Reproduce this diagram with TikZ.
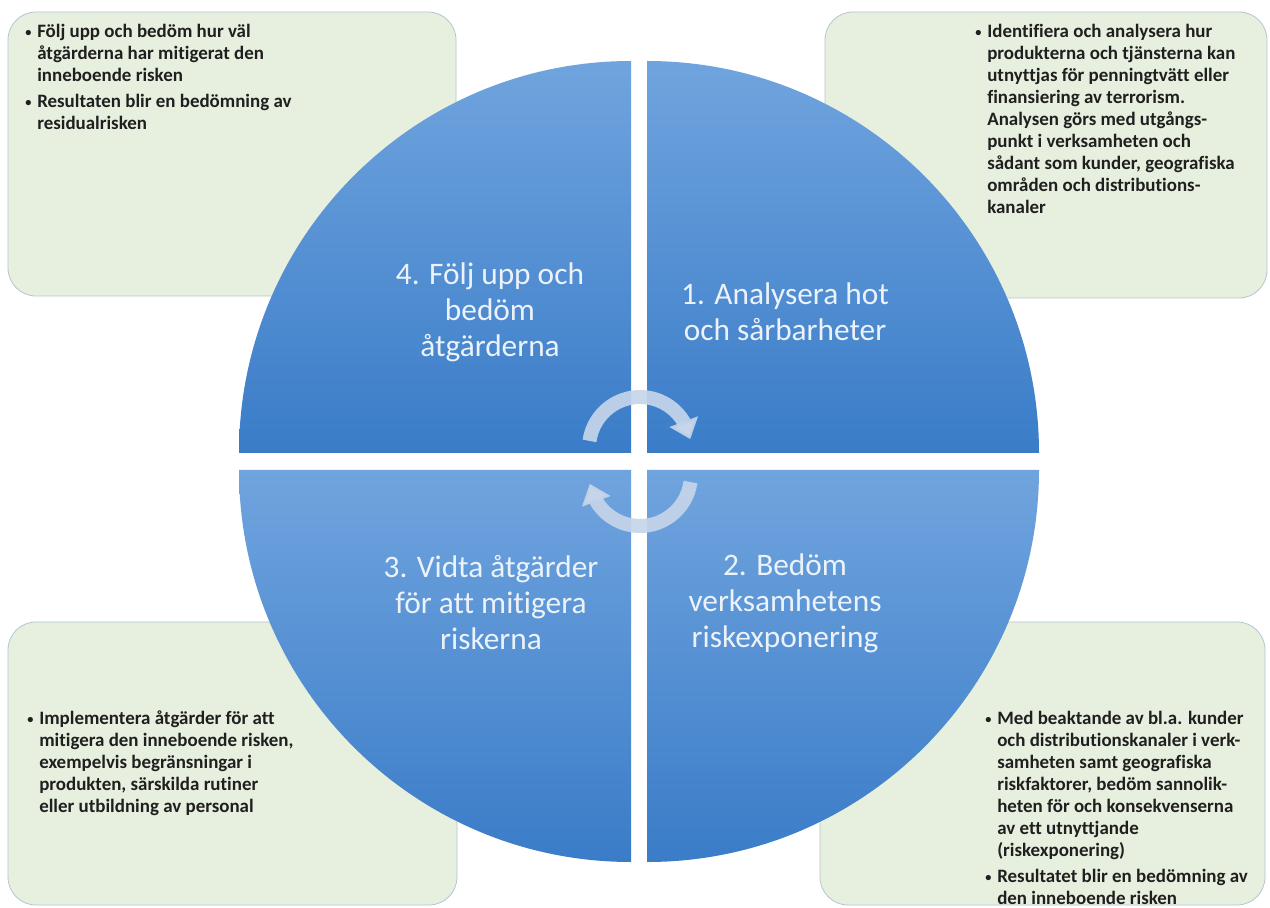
\documentclass[tikz,border=0pt]{standalone}
\usepackage{fontspec}
\setmainfont{Carlito}[Ligatures=NoCommon]
\usetikzlibrary{arrows.meta,bending}
\definecolor{quadtop}{RGB}{112,164,222}
\definecolor{quadbot}{RGB}{58,124,200}
\definecolor{boxfill}{RGB}{231,239,222}
\definecolor{boxline}{RGB}{180,198,206}
\definecolor{quadtext}{RGB}{236,242,250}
\definecolor{cyclecol}{RGB}{198,213,234}
\newcommand{\bp}{\makebox[9pt][l]{\raisebox{1pt}{\scalebox{0.65}{\textbullet}}}}
\newcommand{\ind}{\hspace*{9pt}}

\begin{document}
\begin{tikzpicture}[x=0.75pt, y=0.75pt,
  infobox/.style={fill=boxfill, draw=boxline, line width=0.6pt, rounded corners=21pt},
  quad/.style={top color=quadtop, bottom color=quadbot},
  quadlabel/.style={text=quadtext, align=center, font=\fontsize{23.5pt}{27pt}\selectfont},
  boxtext/.style={text=black!88, align=left, inner sep=0pt, anchor=north west,
    font=\fontsize{14.2pt}{16.5pt}\selectfont\bfseries},
  cyclearrow/.style={draw=cyclecol, line width=10.5pt, draw opacity=0.92,
    -{Triangle[width=22pt, length=14pt]}}]
\useasboundingbox (0,0) rectangle (1270,907);
\fill [white] (0,0) rectangle (1270,907);
\draw [infobox] (8,611) rectangle (456,895);
\draw [infobox] (825,609) rectangle (1267,895);
\draw [infobox] (8,2) rectangle (457,285);
\draw [infobox] (820,2) rectangle (1265,285);
\shade [quad] (631,454) -- (239,454) arc [start angle=180, end angle=90, radius=392] -- cycle;
\shade [quad] (647,454) -- (647,846) arc [start angle=90, end angle=0, radius=392] -- cycle;
\shade [quad] (631,437) -- (631,45) arc [start angle=270, end angle=180, radius=392] -- cycle;
\shade [quad] (647,437) -- (1039,437) arc [start angle=0, end angle=-90, radius=392] -- cycle;
\node [quadlabel] (folj) at (490,595) {4. Följ upp och\\bedöm\\åtgärderna};
\node [quadlabel] (analys) at (785,595) {1. Analysera hot\\och sårbarheter};
\node [quadlabel] (vidta) at (491,304) {3. Vidta åtgärder\\för att mitigera\\riskerna};
\node [quadlabel] (bedom) at (785,304) {2. Bedöm\\verksamhetens\\riskexponering};
\coordinate (overmid) at (640,459);
\coordinate (undermid) at (640,432);
\draw [cyclearrow] ([shift={(172:51)}]overmid) arc [start angle=172, end angle=10, radius=51];
\draw [cyclearrow] ([shift={(-8:51)}]undermid) arc [start angle=-8, end angle=-170, radius=51];
\node [boxtext] (txtfolj) at (25,883) {\bp Följ upp och bedöm hur väl\\
  \ind åtgärderna har mitigerat den\\
  \ind inneboende risken\\[3pt]
  \bp Resultaten blir en bedömning av\\
  \ind residualrisken};
\node [boxtext] (txtanalys) at (975,883) {\bp Identifiera och analysera hur\\
  \ind produkterna och tjänsterna kan\\
  \ind utnyttjas för penningtvätt eller\\
  \ind finansiering av terrorism.\\
  \ind Analysen görs med utgångs-\\
  \ind punkt i verksamheten och\\
  \ind sådant som kunder, geografiska\\
  \ind områden och distributions-\\
  \ind kanaler};
\node [boxtext] (txtvidta) at (27,196) {\bp Implementera åtgärder för att\\
  \ind mitigera den inneboende risken,\\
  \ind exempelvis begränsningar i\\
  \ind produkten, särskilda rutiner\\
  \ind eller utbildning av personal};
\node [boxtext] (txtbedom) at (985,196) {\bp Med beaktande av bl.a. kunder\\
  \ind och distributionskanaler i verk-\\
  \ind samheten samt geografiska\\
  \ind riskfaktorer, bedöm sannolik-\\
  \ind heten för och konsekvenserna\\
  \ind av ett utnyttjande\\
  \ind (riskexponering)\\[3pt]
  \bp Resultatet blir en bedömning av\\
  \ind den inneboende risken};
\end{tikzpicture}
\end{document}
